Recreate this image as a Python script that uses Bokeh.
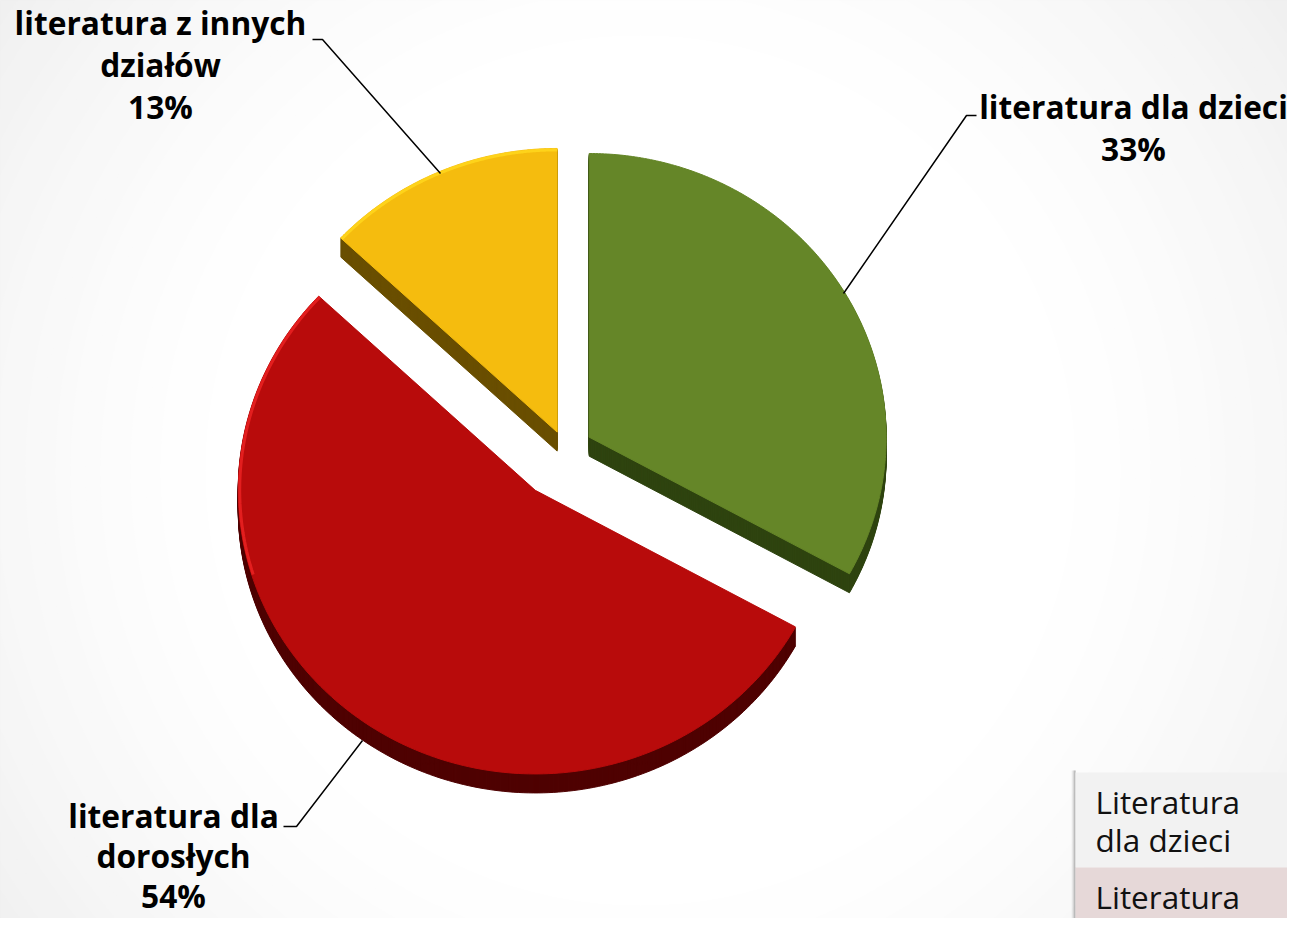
import numpy as np
from bokeh.plotting import figure
from bokeh.models import Range1d
from bokeh.core.properties import value
from bokeh.embed import file_html
from bokeh.resources import INLINE

# ---------------- data ----------------
categories = ["literatura dla dzieci", "literatura dla dorosłych", "literatura z innych działów"]
shares = [33, 54, 13]
pct_labels = ["33%", "54%", "13%"]
label_lines = [
    ["literatura dla dzieci", "33%"],
    ["literatura dla", "dorosłych", "54%"],
    ["literatura z innych", "działów", "13%"],
]
legend_lines = [["Literatura", "dla dzieci"], ["Literatura", "dla dorosłych"]]

# ---------------- styles / layout ----------------
top_colors = ["#658628", "#b80b0b", "#f5bc0e"]
side_colors = ["#2f4410", "#4f0202", "#6a4f00"]
rim_colors = [None, "#e82020", "#ffd51c"]
explode = [27.5, 51.5, 21.0]
legend_fills = ["#f2f2f2", "#e6d8d8"]

FW, FH = 1287, 918
H = 934
CX, CY = 565.0, 450.0       # pie centre (picture pixels)
R, YS, DEPTH = 297.0, 0.955, 19
TEXT_DY = -11               # compensation so baselines land where intended

def Y(py):
    return H - py

def YT(py):
    return H - (py + TEXT_DY)

p = figure(width=FW, height=FH, output_backend="svg", toolbar_location=None,
           x_range=Range1d(0, FW), y_range=Range1d(H - FH, H),
           x_axis_type=None, y_axis_type=None, min_border=0)
p.outline_line_color = None
p.background_fill_color = "#ffffff"
p.border_fill_color = "#ffffff"
p.grid.visible = False

# soft radial background
gx, gy = 640, 470
radii = np.arange(900, 420, -15)
for r in radii:
    t = (r - 420) / (900 - 420)
    g = int(round(255 - 20 * t ** 1.3))
    p.circle(x=[gx], y=[Y(gy)], radius=r, fill_color=f"#{g:02x}{g:02x}{g:02x}",
             line_color=None)

# ---------------- pie ----------------
total = float(sum(shares))
start = 90.0
slices = []
for i, s in enumerate(shares):
    sweep = s / total * 360.0
    a0, a1 = start, start - sweep
    bis = np.radians((a0 + a1) / 2)
    ax = CX + explode[i] * np.cos(bis)
    ay = CY - explode[i] * np.sin(bis) * YS
    th = np.radians(np.linspace(a0, a1, 200))
    xs = np.concatenate([[ax], ax + R * np.cos(th)])
    ys = np.concatenate([[ay], ay - R * np.sin(th) * YS])
    slices.append((xs, ys, th, ax, ay))
    start = a1

# sides (extrusion)
for i, (xs, ys, th, ax, ay) in enumerate(slices):
    sx, sy = [], []
    for d in range(DEPTH, 0, -1):
        sx.append(list(xs))
        sy.append(list(Y(ys + d)))
    p.patches(xs=sx, ys=sy, fill_color=side_colors[i], line_color=side_colors[i], line_width=1)

# tops
for i, (xs, ys, th, ax, ay) in enumerate(slices):
    p.patch(x=xs, y=Y(ys), fill_color=top_colors[i], line_color=top_colors[i], line_width=1)
    if rim_colors[i]:
        m = np.cos(th - np.radians(135)) > 0.45
        if m.any():
            rx = ax + (R - 1.5) * np.cos(th[m])
            ry = ay - (R - 1.5) * np.sin(th[m]) * YS
            p.line(x=rx, y=Y(ry), line_color=rim_colors[i], line_width=3, line_alpha=0.9)

# ---------------- leader lines ----------------
leaders = [
    ([976, 966, 843], [115, 115, 293]),
    ([283, 296, 362], [826, 826, 740]),
    ([312, 322, 440], [39, 39, 173]),
]
for lx, ly in leaders:
    p.line(x=lx, y=[Y(v) for v in ly], line_color="#000000", line_width=1.5)

# ---------------- labels ----------------
label_pos = [(1133, 117, 42), (173, 826, 40), (160, 33, 42)]
for i, lines in enumerate(label_lines):
    cx, by, lh = label_pos[i]
    n = len(lines)
    p.text(x=[cx] * n, y=[YT(by + k * lh) for k in range(n)], text=lines,
           text_font=value("Open Sans"), text_font_style="bold",
           text_font_size="31.7px", text_align="center", text_baseline="alphabetic",
           text_color="#000000")

# ---------------- legend (partially visible box) ----------------
row_top = [772, 867]
row_bot = [867, 990]
LX0, LX1 = 1075, 1320
for k, a in enumerate([0.06, 0.10, 0.16, 0.24]):
    p.quad(left=[LX0 - 4 + k], right=[LX0], top=[Y(770)], bottom=[Y(990)],
           fill_color="#555555", fill_alpha=a, line_color=None)
for j in range(len(legend_lines)):
    p.quad(left=[LX0], right=[LX1], top=[Y(row_top[j])], bottom=[Y(row_bot[j])],
           fill_color=legend_fills[j], line_color=None)
    lines = legend_lines[j]
    n = len(lines)
    p.text(x=[1095] * n, y=[YT(row_top[j] + 40 + k * 38) for k in range(n)], text=lines,
           text_font=value("Open Sans"), text_font_size="31.5px",
           text_align="left", text_baseline="alphabetic", text_color="#111111")

open("out.html", "w").write(file_html(p, INLINE))
